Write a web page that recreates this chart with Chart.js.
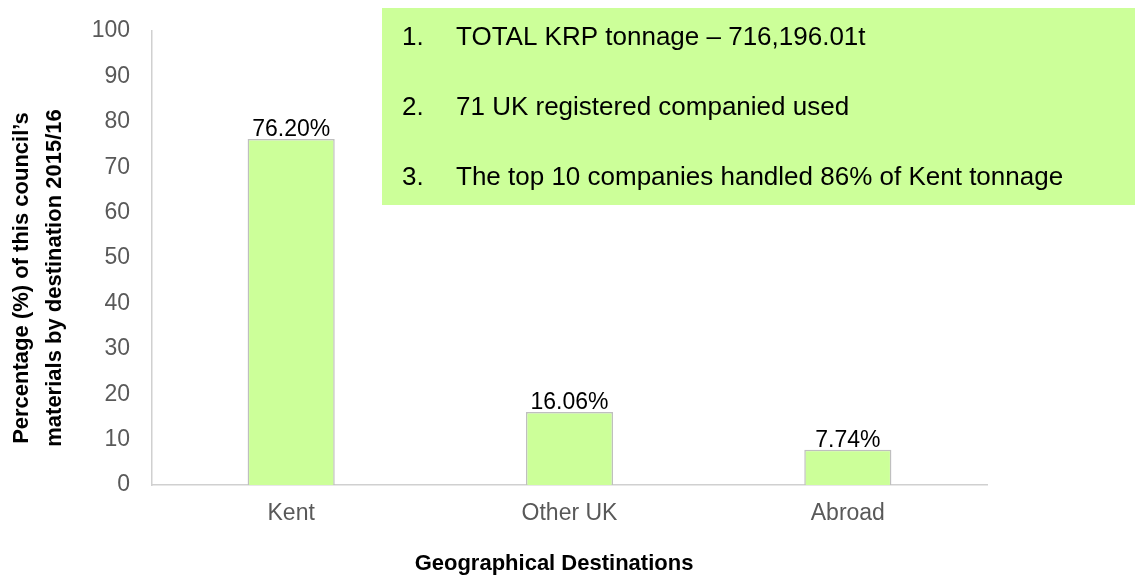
<!DOCTYPE html>
<html>
<head>
<meta charset="utf-8">
<script src="https://cdn.jsdelivr.net/npm/chart.js@4.4.1/dist/chart.umd.min.js"></script>
<style>
  html, body { margin: 0; padding: 0; background: #fff; }
  #wrap { width: 1135px; height: 579px; position: relative; }
</style>
</head>
<body>
<div id="wrap"><canvas id="destChart"></canvas></div>
<script>
const categories = ['Kent', 'Other UK', 'Abroad'];
const percentages = [76.20, 16.06, 7.74];
const yTitle = ['Percentage (%) of this council\u2019s', 'materials by destination 2015/16'];
const xTitle = 'Geographical Destinations';
const notes = [
  'TOTAL KRP tonnage \u2013 716,196.01t',
  '71 UK registered companied used',
  'The top 10 companies handled 86% of Kent tonnage'
];

const tickFont = { family: "'Liberation Sans', Arial, sans-serif", size: 23 };
const axisLine = '#d0d0d0';

// value labels on top of each bar
const barLabels = {
  id: 'barLabels',
  afterDatasetsDraw(chart) {
    const ctx = chart.ctx;
    const meta = chart.getDatasetMeta(0);
    ctx.save();
    ctx.fillStyle = '#000';
    ctx.font = "23px 'Liberation Sans', Arial, sans-serif";
    ctx.textAlign = 'center';
    ctx.textBaseline = 'alphabetic';
    meta.data.forEach((bar, i) => {
      ctx.fillText(percentages[i].toFixed(2) + '%', bar.x, bar.y - 3);
    });
    ctx.restore();
  }
};

// axis titles + the green notes box
const extras = {
  id: 'extras',
  afterDraw(chart) {
    const ctx = chart.ctx;
    ctx.save();
    ctx.fillStyle = '#000';
    ctx.font = "bold 22px 'Liberation Sans', Arial, sans-serif";
    ctx.textAlign = 'center';
    ctx.textBaseline = 'middle';
    ctx.fillText(xTitle, 554, 564);

    ctx.translate(0, 278);
    ctx.rotate(-Math.PI / 2);
    ctx.fillText(yTitle[0], 0, 22);
    ctx.fillText(yTitle[1], 0, 55);
    ctx.restore();

    ctx.save();
    ctx.fillStyle = '#ccff99';
    ctx.fillRect(382, 8, chart.width - 382, 197);
    ctx.fillStyle = '#000';
    ctx.font = "26px 'Liberation Sans', Arial, sans-serif";
    ctx.textBaseline = 'alphabetic';
    notes.forEach((line, i) => {
      const y = 45 + i * 70;
      ctx.fillText((i + 1) + '.', 402, y);
      ctx.fillText(line, 456, y);
    });
    ctx.restore();
  }
};

new Chart(document.getElementById('destChart'), {
  type: 'bar',
  data: {
    labels: categories,
    datasets: [{
      data: percentages,
      backgroundColor: '#ccff99',
      borderColor: '#bfbfbf',
      borderWidth: 1.5,
      categoryPercentage: 1,
      barPercentage: 0.313
    }]
  },
  options: {
    responsive: true,
    maintainAspectRatio: false,
    animation: false,
    layout: { padding: { left: 0, right: 148, top: 31, bottom: 0 } },
    plugins: {
      legend: { display: false },
      tooltip: { enabled: false }
    },
    scales: {
      x: {
        grid: { display: false, drawTicks: false },
        border: { display: true, color: axisLine, width: 1.5 },
        ticks: { color: '#595959', font: tickFont, padding: 15 },
        afterFit(scale) {
          scale.height = 94;
          scale.paddingLeft = 0;
          scale.paddingRight = 0;
        }
      },
      y: {
        min: 0,
        max: 100,
        grid: { display: false, drawTicks: false },
        border: { display: true, color: axisLine, width: 1.5 },
        ticks: { stepSize: 10, color: '#595959', font: tickFont, padding: 22 },
        afterFit(scale) {
          scale.width = 152;
          scale.paddingTop = 0;
          scale.paddingBottom = 0;
        }
      }
    }
  },
  plugins: [barLabels, extras]
});
</script>
</body>
</html>
